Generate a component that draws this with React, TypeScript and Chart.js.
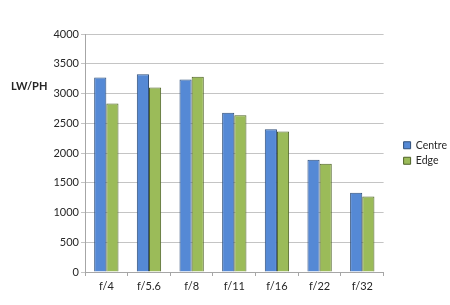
import React, { useEffect, useRef } from "react";
import { Chart, registerables } from "chart.js";

Chart.register(...registerables);

const categories = ["f/4", "f/5.6", "f/8", "f/11", "f/16", "f/22", "f/32"];
const centre = [3270, 3325, 3235, 2678, 2400, 1885, 1330];
const edge = [2832, 3100, 3280, 2635, 2362, 1818, 1270];
const yTicks = { min: 0, max: 4000, step: 500 };
const yTitle = "LW/PH";

const FONT = "Lato, 'Open Sans', sans-serif";

export default function App() {
  const ref = useRef<HTMLCanvasElement | null>(null);
  useEffect(() => {
    document.body.style.margin = "0";
    const titlePlugin = {
      id: "ytitle",
      afterLayout(chart: any) {
        const lg = chart.legend;
        if (lg) {
          lg.left += 15;
          lg.right += 15;
        }
      },
      afterDraw(chart: any) {
        const ctx = chart.ctx;
        ctx.save();
        ctx.font = "bold 11px " + FONT;
        ctx.fillStyle = "#262626";
        ctx.textAlign = "left";
        ctx.textBaseline = "middle";
        const y = chart.scales.y.getPixelForValue(3120);
        ctx.fillText(yTitle, 11, y);
        ctx.restore();
      },
    };
    const chart = new Chart(ref.current!, {
      type: "bar",
      data: {
        labels: categories,
        datasets: [
          {
            label: "Centre",
            data: centre,
            backgroundColor: "#5589D5",
            borderColor: "#2F4F7A",
            borderWidth: 1,
          },
          {
            label: "Edge",
            data: edge,
            backgroundColor: "#9BBB59",
            borderColor: "#4F6328",
            borderWidth: 1,
          },
        ],
      },
      options: {
        animation: false,
        responsive: false,
        maintainAspectRatio: false,
        layout: { padding: { left: 33, top: 34, right: 8, bottom: 0 } },
        datasets: { bar: { categoryPercentage: 0.57, barPercentage: 1.0 } },
        plugins: {
          tooltip: { enabled: false },
          legend: {
            position: "right",
            align: "center",
            fullSize: false,
            labels: {
              boxWidth: 7,
              boxHeight: 7,
              padding: 5,
              color: "#262626",
              font: { family: FONT, size: 10.5 },
            },
          },
        },
        scales: {
          x: {
            grid: {
              offset: true,
              drawOnChartArea: false,
              drawTicks: true,
              tickLength: 4,
              color: "#a6a6a6",
            },
            border: { color: "#a6a6a6" },
            ticks: { color: "#262626", font: { family: FONT, size: 11 }, padding: 4 },
            afterFit: (s: any) => {
              s.height = 33;
            },
          },
          y: {
            min: yTicks.min,
            max: yTicks.max,
            ticks: {
              stepSize: yTicks.step,
              color: "#262626",
              font: { family: FONT, size: 11 },
              padding: 2,
              callback: (v: any) => String(v),
            },
            grid: { color: "#c4c4c4", tickLength: 4, drawTicks: true },
            border: { color: "#a6a6a6" },
            afterFit: (s: any) => {
              s.width = 52;
            },
          },
        },
      },
      plugins: [titlePlugin],
    });
    return () => chart.destroy();
  }, []);
  return (
    <div style={{ position: "absolute", left: 0, top: 0, width: 450, height: 305 }}>
      <canvas ref={ref} width={450} height={305} />
    </div>
  );
}
